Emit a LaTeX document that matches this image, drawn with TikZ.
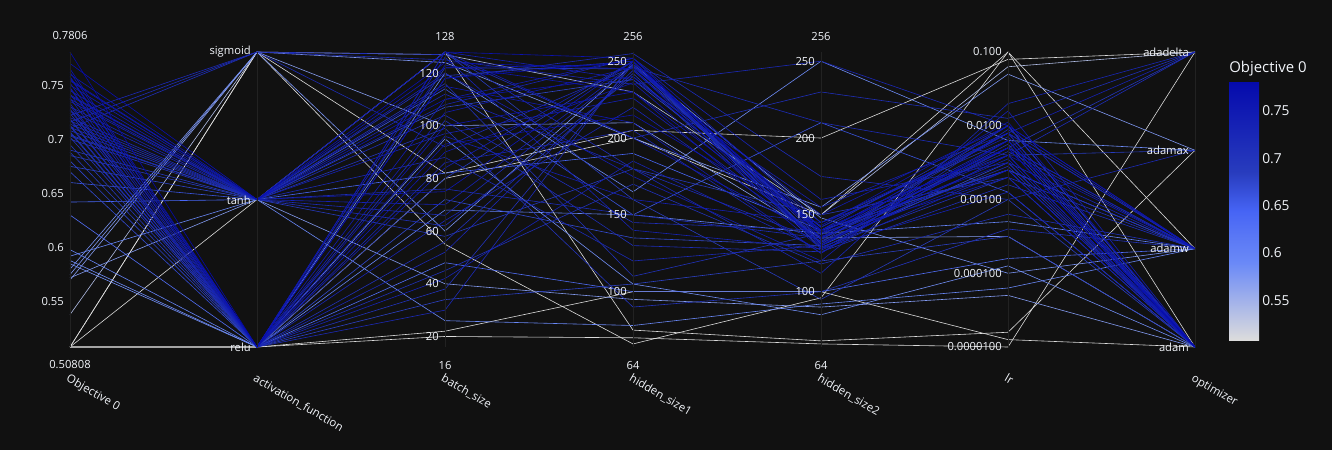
\documentclass[tikz,border=0pt]{standalone}
\usepackage{fontspec}
\setmainfont{Open Sans}
\definecolor{bg}{HTML}{111111}
\definecolor{fg}{HTML}{F2F5FA}
\definecolor{axc}{HTML}{222222}
% colour scale, dark = best objective
\definecolor{cA}{RGB}{5,10,172}
\definecolor{cB}{RGB}{40,60,190}
\definecolor{cC}{RGB}{70,100,245}
\definecolor{cD}{RGB}{90,120,245}
\definecolor{cE}{RGB}{106,137,247}
\definecolor{cF}{RGB}{220,220,220}
\pgfdeclareverticalshading{cbar}{100bp}{color(0bp)=(cF); color(25bp)=(cF);
  color(40bp)=(cE); color(45bp)=(cD); color(50bp)=(cC); color(57.5bp)=(cB);
  color(75bp)=(cA); color(100bp)=(cA)}
% #1 = 0 (best) .. 100 (worst)
\newcommand\setlinecolor[1]{%
  \pgfmathsetmacro\cu{max(0,min(99.9,#1))}%
  \ifdim\cu pt<35pt \pgfmathsetmacro\cf{\cu/35*100}\colorlet{lc}{cB!\cf!cA}%
  \else\ifdim\cu pt<50pt \pgfmathsetmacro\cf{(\cu-35)/15*100}\colorlet{lc}{cC!\cf!cB}%
  \else\ifdim\cu pt<60pt \pgfmathsetmacro\cf{(\cu-50)/10*100}\colorlet{lc}{cD!\cf!cC}%
  \else\ifdim\cu pt<70pt \pgfmathsetmacro\cf{(\cu-60)/10*100}\colorlet{lc}{cE!\cf!cD}%
  \else \pgfmathsetmacro\cf{(\cu-70)/30*100}\colorlet{lc}{cF!\cf!cE}%
  \fi\fi\fi\fi}
\begin{document}
\begin{tikzpicture}[x=0.75pt,y=-0.75pt,
  trial/.style={lc,line width=0.45pt},
  axisline/.style={axc,line width=0.6pt},
  ticklab/.style={text=fg,font=\fontsize{8.4}{10}\selectfont,inner sep=0pt},
  axtitle/.style={text=fg,font=\fontsize{8.6}{10}\selectfont,inner sep=0pt,
    anchor=north west,rotate=-30},
  cbtick/.style={text=fg,font=\fontsize{10.3}{12}\selectfont,inner sep=0pt,anchor=west}]
\fill[bg] (0,0) rectangle (1332,450);
\useasboundingbox (0,0) rectangle (1332,450);
%
% trials: objective / activation / batch / hidden1 / hidden2 / log10(lr) / optimizer
\foreach \obj/\act/\bat/\hsa/\hsb/\lre/\opt in {
  0.50808/0/20/70/66/-5.0/3, 0.50808/0/80/200/150/-1.0/0,
  0.50808/1/128/75/68/-4.8/2, 0.50808/2/82/205/200/-1.1/3,
  0.50808/0/22/100/100/-4.9/0, 0.50808/2/55/66/96/-1.0/1,
  0.538/2/127/230/150/-1.2/3, 0.570/2/100/210/135/-3.5/0,
  0.572/1/40/95/90/-4.3/0, 0.575/2/124/200/155/-1.3/2,
  0.580/2/60/248/148/-4.0/1, 0.585/0/95/105/85/-3.9/0,
  0.588/0/120/165/250/-2.2/2, 0.592/1/26/78/92/-4.2/1,
  0.598/0/68/150/138/-3.3/1, 0.630/0/48/100/100/-3.8/1,
  0.642/1/82/190/140/-2.6/1, 0.660/1/114/150/210/-2.9/0,
  0.670/0/72/135/130/-2.5/0, 0.675/1/107/238/142/-2.1/1,
  0.680/0/34/105/120/-3.5/0, 0.685/1/128/160/95/-3.0/0,
  0.688/0/80/250/128/-2.4/2, 0.690/1/58/180/150/-2.7/0,
  0.695/0/122/245/140/-2.3/3, 0.700/1/99/90/100/-3.4/1,
  0.702/0/38/248/132/-2.0/0, 0.703/1/119/250/131/-2.25/0,
  0.704/1/116/110/138/-2.6/0, 0.706/0/45/170/118/-3.2/1,
  0.707/0/56/242/129/-2.7/1, 0.708/1/62/240/145/-2.2/0,
  0.710/2/127/200/230/-1.9/3, 0.711/1/104/145/140/-2.0/0,
  0.712/0/102/130/126/-2.8/1, 0.713/0/128/180/133/-2.55/0,
  0.714/1/76/150/135/-2.1/0, 0.716/2/92/246/210/-2.4/3,
  0.717/1/66/247/137/-2.35/1, 0.718/0/118/255/175/-3.0/2,
  0.719/0/30/250/134/-2.3/1, 0.720/1/88/120/130/-2.3/0,
  0.722/2/125/235/250/-2.0/0, 0.724/0/52/244/140/-2.6/1,
  0.726/1/112/180/112/-1.7/3, 0.727/0/86/205/125/-2.05/1,
  0.728/0/64/220/134/-2.2/0, 0.730/1/108/252/160/-2.5/1,
  0.731/0/42/185/127/-2.6/0, 0.733/0/126/140/128/-2.9/0,
  0.735/1/70/248/138/-2.1/3, 0.737/1/97/226/135/-2.45/0,
  0.738/0/96/160/145/-2.4/0, 0.740/1/120/175/120/-1.8/0,
  0.741/1/128/238/155/-2.1/0, 0.742/0/84/250/130/-2.3/1,
  0.745/1/128/200/136/-2.7/0, 0.747/0/110/252/145/-2.15/0,
  0.748/0/105/246/150/-2.0/1, 0.750/1/115/210/125/-2.2/0,
  0.752/0/90/236/132/-2.6/0, 0.754/1/75/250/139/-2.4/1,
  0.755/1/122/248/142/-2.1/1, 0.757/0/123/230/140/-2.3/0,
  0.758/0/100/230/128/-2.4/0, 0.760/1/110/240/138/-2.5/0,
  0.762/0/93/215/143/-1.95/0, 0.765/0/128/252/135/-2.0/1,
  0.770/1/124/245/130/-2.2/0, 0.7806/0/118/250/140/-2.3/0}{
  \pgfmathsetmacro\ya{347-(\obj-0.50808)/0.27252*295}
  \pgfmathsetmacro\yb{347-\act*147.5}
  \pgfmathsetmacro\yc{347-(\bat-16)/112*295}
  \pgfmathsetmacro\yd{347-(\hsa-64)/192*295}
  \pgfmathsetmacro\ye{347-(\hsb-64)/192*295}
  \pgfmathsetmacro\yf{347-(\lre+5)*73.75}
  \pgfmathsetmacro\yg{347-\opt*98.333}
  \setlinecolor{(0.7806-\obj)/0.27252*100}
  \draw[trial] (70,\ya) -- (257,\yb) -- (445,\yc) -- (633,\yd) -- (821,\ye)
    -- (1008,\yf) -- (1195,\yg);
}
%
% axes
\foreach \x/\n in {70/obj,257/act,445/bat,633/hsa,821/hsb,1008/lr,1195/opt}{
  \draw[axisline] (\x,52) -- (\x,347);
}
% range labels
\foreach \x/\n/\top/\bot in {70/obj/0.7806/0.50808,445/bat/128/16,633/hsa/256/64,821/hsb/256/64}{
  \node[ticklab] (\n-top) at (\x,36) {\top};
  \node[ticklab] (\n-bot) at (\x,365) {\bot};
}
% tick labels
\foreach \v [count=\i] in {0.55,0.6,0.65,0.7,0.75}
  \node[ticklab,anchor=east] (obj-\i) at (64,{347-(\v-0.50808)/0.27252*295}) {\v};
\foreach \v/\y [count=\i] in {sigmoid/52,tanh/200,relu/347}
  \node[ticklab,anchor=east] (act-\i) at (251,\y) {\v};
\foreach \v [count=\i] in {20,40,60,80,100,120}
  \node[ticklab,anchor=east] (bat-\i) at (439,{347-(\v-16)/112*295}) {\v};
\foreach \x/\n in {633/hsa,821/hsb}
  \foreach \v [count=\i] in {100,150,200,250}
    \node[ticklab,anchor=east] (\n-\i) at (\x-6,{347-(\v-64)/192*295}) {\v};
\foreach \v/\y [count=\i] in {0.100/52,0.0100/125.75,0.00100/199.5,0.000100/273.25,0.0000100/347}
  \node[ticklab,anchor=east] (lr-\i) at (1002,\y) {\v};
\foreach \v/\y [count=\i] in {adadelta/52,adamax/150.3,adamw/248.7,adam/347}
  \node[ticklab,anchor=east] (opt-\i) at (1189,\y) {\v};
%
% axis titles
\node[axtitle] (t-obj) at (70,373) {Objective 0};
\node[axtitle] (t-act) at (257,373) {activation\_function};
\node[axtitle] (t-bat) at (445,373) {batch\_size};
\node[axtitle] (t-hsa) at (633,373) {hidden\_size1};
\node[axtitle] (t-hsb) at (821,373) {hidden\_size2};
\node[axtitle] (t-lr) at (1008,373) {lr};
\node[axtitle] (t-opt) at (1195,373) {optimizer};
%
% colour bar
\shade[shading=cbar] (1229,82) rectangle (1259,340);
\node[text=fg,font=\fontsize{11.2}{13}\selectfont,inner sep=0pt,anchor=west] (cb-title) at (1229,69) {Objective 0};
\foreach \v [count=\i] in {0.55,0.6,0.65,0.7,0.75}
  \node[cbtick] (cb-\i) at (1262,{340-(\v-0.50808)/0.27252*258}) {\v};
\end{tikzpicture}
\end{document}
